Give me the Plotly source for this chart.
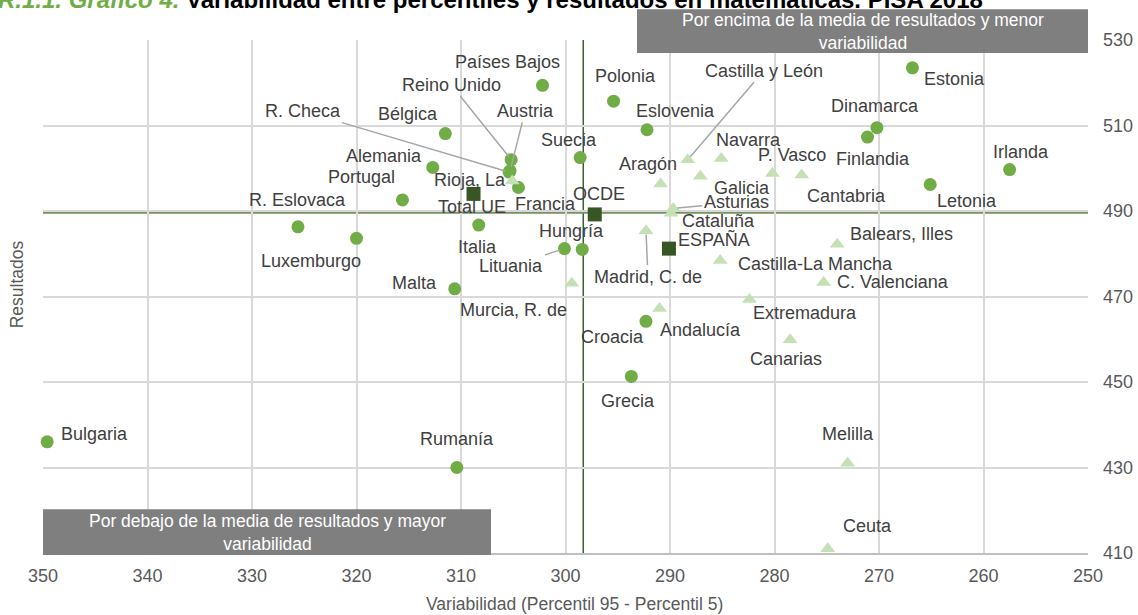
import plotly.graph_objects as go

# ---------------- DATA ----------------
countries = ["Países Bajos", "Polonia", "Estonia", "Bélgica", "Eslovenia", "Dinamarca",
             "Finlandia", "Suecia", "Reino Unido", "R. Checa", "Austria", "Alemania",
             "Irlanda", "Letonia", "Francia", "Portugal", "Italia", "R. Eslovaca",
             "Luxemburgo", "Lituania", "Hungría", "Malta", "Croacia", "Grecia",
             "Bulgaria", "Rumanía"]
country_var = [302.2, 295.4, 266.8, 311.5, 292.2, 270.2, 271.1, 298.6, 305.2, 305.4,
               305.3, 312.7, 257.5, 265.1, 304.5, 315.6, 308.3, 325.6, 320.0, 300.1,
               298.4, 310.6, 292.3, 293.7, 349.6, 310.4]
country_res = [519.4, 515.7, 523.5, 508.1, 509.0, 509.5, 507.3, 502.5, 502.0, 499.1,
               499.4, 500.2, 499.7, 496.2, 495.5, 492.6, 486.7, 486.3, 483.6, 481.2,
               481.0, 471.8, 464.2, 451.3, 436.0, 430.0]

regions = ["Rioja, La", "Castilla y León", "Navarra", "Aragón", "Galicia", "P. Vasco",
           "Cantabria", "Asturias", "Cataluña", "Madrid, C. de", "Balears, Illes",
           "Castilla-La Mancha", "Murcia, R. de", "C. Valenciana", "Extremadura",
           "Andalucía", "Canarias", "Melilla", "Ceuta"]
region_var = [305.1, 288.3, 285.1, 290.9, 287.1, 280.2, 277.4, 289.7, 289.9, 292.3,
              274.0, 285.2, 299.4, 275.3, 282.4, 291.0, 278.5, 273.0, 274.9]
region_res = [497.0, 502.0, 502.3, 496.3, 498.1, 498.8, 498.4, 490.6, 489.5, 485.4,
              482.2, 478.4, 473.1, 473.3, 469.3, 467.2, 459.9, 431.0, 411.0]

aggregates = ["Total UE", "OCDE", "ESPAÑA"]
agg_var = [308.8, 297.2, 290.1]
agg_res = [494.0, 489.2, 481.2]

mean_variability = 298.3
mean_result = 489.6

x_ticks = [350, 340, 330, 320, 310, 300, 290, 280, 270, 260, 250]
y_ticks = [410, 430, 450, 470, 490, 510, 530]

# ---------------- LABEL PLACEMENT (screen px offsets) ----------------
label_offsets = {
    "Países Bajos": (-35, -23), "Polonia": (12, -25), "Estonia": (42, 11),
    "Bélgica": (-37, -20), "Eslovenia": (28, -19), "Dinamarca": (-2, -22),
    "Finlandia": (5, 22), "Suecia": (-11, -18), "Alemania": (-49, -11),
    "Irlanda": (11, -18), "Letonia": (37, 17), "Francia": (27, 17),
    "Portugal": (-41, -23), "Italia": (-1, 22), "R. Eslovaca": (0, -27),
    "Luxemburgo": (-46, 23), "Hungría": (-11, -18), "Malta": (-40, -6),
    "Croacia": (-33, 16), "Grecia": (-3, 25), "Bulgaria": (47, -8),
    "Rumanía": (0, -29), "Rioja, La": (-42, -1), "Navarra": (27, -18),
    "Aragón": (-13, -20), "Galicia": (42, 12), "P. Vasco": (20, -18),
    "Cantabria": (45, 21), "Cataluña": (47, 8), "Balears, Illes": (64, -10),
    "Castilla-La Mancha": (95, 3), "Murcia, R. de": (-58, 27),
    "C. Valenciana": (69, 0), "Extremadura": (56, 14), "Andalucía": (41, 22),
    "Canarias": (-4, 19), "Melilla": (0, -29), "Ceuta": (40, -23),
    "Total UE": (-2, 13), "OCDE": (4, -20), "ESPAÑA": (45, -9),
}
leader_offsets = {
    "Reino Unido": (-60, -75), "Austria": (15, -60), "R. Checa": (-206, -61),
    "Castilla y León": (76, -89), "Asturias": (63, -6), "Lituania": (-53, 17),
    "Madrid, C. de": (2, 46),
}

FONT = "Liberation Sans, Arial, sans-serif"
LABEL_COLOR = "#404040"

fig = go.Figure()

fig.add_trace(go.Scatter(
    x=country_var, y=country_res, mode="markers", name="Países",
    marker=dict(symbol="circle", size=13, color="#70AD47"),
    cliponaxis=False, hoverinfo="text", text=countries))
fig.add_trace(go.Scatter(
    x=region_var, y=region_res, mode="markers", name="CCAA",
    marker=dict(symbol="triangle-up", size=13, color="#C5E0B4"),
    cliponaxis=False, hoverinfo="text", text=regions))
fig.add_trace(go.Scatter(
    x=agg_var, y=agg_res, mode="markers", name="Agregados",
    marker=dict(symbol="square", size=14, color="#375623"),
    cliponaxis=False, hoverinfo="text", text=aggregates))

annotations = []
all_names = countries + regions + aggregates
all_x = country_var + region_var + agg_var
all_y = country_res + region_res + agg_res
for name, xv, yv in zip(all_names, all_x, all_y):
    if name in leader_offsets:
        ax, ay = leader_offsets[name]
        annotations.append(dict(
            x=xv, y=yv, xref="x", yref="y", text=name, showarrow=True,
            ax=ax, ay=ay, arrowhead=0, arrowwidth=1.5, arrowcolor="#a6a6a6",
            standoff=4, font=dict(family=FONT, size=18, color=LABEL_COLOR)))
    else:
        dx, dy = label_offsets[name]
        annotations.append(dict(
            x=xv, y=yv, xref="x", yref="y", text=name, showarrow=False,
            xshift=dx, yshift=-dy,
            font=dict(family=FONT, size=18, color=LABEL_COLOR)))

PW, PH = 1045.0, 513.0  # plot area size in px

shapes = [
    dict(type="line", xref="x", yref="paper", x0=mean_variability, x1=mean_variability,
         y0=0, y1=1, line=dict(color="#375623", width=1.4), layer="below"),
    dict(type="line", xref="paper", yref="y", x0=0, x1=1, y0=mean_result, y1=mean_result,
         line=dict(color="#76925f", width=2.2), layer="below"),
    dict(type="rect", xref="paper", yref="paper",
         x0=(637 - 43) / PW, x1=1.0, y0=(552.7 - 52.7) / PH, y1=(552.7 - 9) / PH,
         fillcolor="#7f7f7f", line=dict(width=0), layer="above"),
    dict(type="rect", xref="paper", yref="paper",
         x0=0, x1=(491 - 43) / PW, y0=(552.7 - 554.7) / PH, y1=(552.7 - 509) / PH,
         fillcolor="#7f7f7f", line=dict(width=0), layer="above"),
]

annotations += [
    dict(xref="paper", yref="paper", x=((637 + 1088) / 2 - 43) / PW, y=(552.7 - 31) / PH,
         text="Por encima de la media de resultados y menor<br>variabilidad",
         showarrow=False, font=dict(family=FONT, size=17.5, color="white"),
         xanchor="center", yanchor="middle"),
    dict(xref="paper", yref="paper", x=((43 + 491) / 2 - 43) / PW, y=(552.7 - 532) / PH,
         text="Por debajo de la media de resultados y mayor<br>variabilidad",
         showarrow=False, font=dict(family=FONT, size=17.5, color="white"),
         xanchor="center", yanchor="middle"),
    dict(xref="paper", yref="paper", x=(574 - 43) / PW, y=(552.7 - 604) / PH,
         text="Variabilidad (Percentil 95 - Percentil 5)", showarrow=False,
         font=dict(family=FONT, size=17.5, color="#595959"),
         xanchor="center", yanchor="middle"),
    dict(xref="paper", yref="paper", x=(17 - 43) / PW, y=(552.7 - 284) / PH,
         text="Resultados", showarrow=False, textangle=-90,
         font=dict(family=FONT, size=17.5, color="#595959"),
         xanchor="center", yanchor="middle"),
    dict(xref="paper", yref="paper", x=(-4 - 43) / PW, y=(552.7 - 15) / PH,
         text="<b><i><span style='color:#70AD47'>R.1.1. Gráfico 4.</span></i> "
              "Variabilidad entre percentiles y resultados en matemáticas. PISA 2018</b>",
         showarrow=False, font=dict(family=FONT, size=24, color="#000000"),
         xanchor="left", yanchor="bottom"),
]

fig.update_layout(
    width=1138, height=615,
    margin=dict(l=43, r=50, t=40, b=62, autoexpand=False),
    paper_bgcolor="white", plot_bgcolor="white",
    showlegend=False,
    font=dict(family=FONT, size=18, color="#595959"),
    shapes=shapes, annotations=annotations,
    xaxis=dict(range=[350, 250], tickvals=x_ticks, showgrid=True, automargin=False,
               gridcolor="#d9d9d9", gridwidth=1.5, zeroline=False,
               showline=True, linecolor="#bfbfbf", linewidth=1.5,
               ticks="", ticklabelstandoff=6, tickfont=dict(size=18, color="#595959")),
    yaxis=dict(range=[410, 530], tickvals=y_ticks, side="right", showgrid=True,
               automargin=False,
               gridcolor="#d9d9d9", gridwidth=1.5, zeroline=False,
               showline=False, ticks="", ticklabelstandoff=14,
               tickfont=dict(size=18, color="#595959")),
)

fig.write_html("out.html", config={"displayModeBar": False},
               post_script="document.body.style.margin='0';document.body.style.overflow='hidden';")
